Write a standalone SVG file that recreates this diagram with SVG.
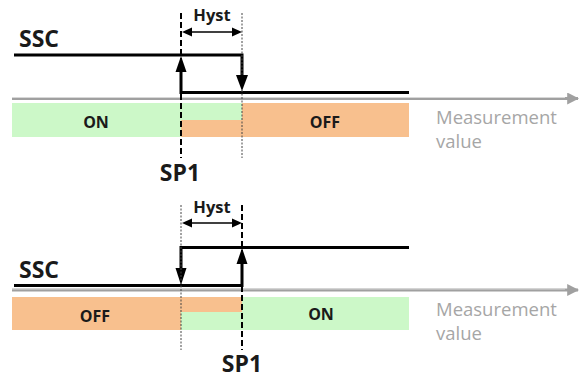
<svg xmlns="http://www.w3.org/2000/svg" width="583" height="379" viewBox="0 0 583 379">
  <style>
    .lbl { font-family: "Open Sans", "Noto Sans", "Liberation Sans", sans-serif; font-weight: bold; fill: #1a1a1a; }
    .big { font-size: 23px; }
    .sp1 { font-size: 23px; }
    .mid { font-size: 16px; }
    .hyst { font-size: 16.5px; }
    .meas { font-family: "Open Sans", "Noto Sans", "Liberation Sans", sans-serif; font-size: 18.5px; fill: #a6a6a6; }
    .axis { stroke: #a0a0a0; stroke-width: 3; fill: none; }
    .axis-hi { stroke: #d8d8d8; stroke-width: 1; fill: none; }
    .sig { stroke: #000; stroke-width: 3; fill: none; }
    .head { fill: #000; }
    .sp { stroke: #000; stroke-width: 2; stroke-dasharray: 6 3; fill: none; }
    .hy { stroke: #444; stroke-width: 1; stroke-dasharray: 2 1.5; fill: none; }
    .on { fill: #ccf8c8; }
    .off { fill: #f8c08e; }
    .dim { stroke: #000; stroke-width: 1.3; fill: none; }
  </style>
  <defs>
    <marker id="axisHead" viewBox="0 0 10 10" refX="9" refY="5" markerWidth="4" markerHeight="4" orient="auto" markerUnits="strokeWidth">
      <path d="M0,0 L10,5 L0,10 z" fill="#a0a0a0"/>
    </marker>
  </defs>

  <!-- upper panel: rising measurement switches SSC off at SP1 + Hyst -->
  <g id="zones-top">
    <rect class="on" x="12" y="103" width="169" height="34"/>
    <rect class="on" x="181" y="103" width="61" height="17"/>
    <rect class="off" x="181" y="120" width="61" height="17"/>
    <rect class="off" x="242" y="103" width="167" height="34"/>
    <text class="lbl mid" x="96" y="128" text-anchor="middle">ON</text>
    <text class="lbl mid" x="325" y="128" text-anchor="middle">OFF</text>
  </g>
  <g id="axis-top">
    <line class="axis" x1="12" y1="98.5" x2="578" y2="98.5" marker-end="url(#axisHead)"/>
    <line class="axis-hi" x1="12" y1="97.5" x2="565" y2="97.5"/>
    <text class="meas" x="436" y="124">Measurement</text>
    <text class="meas" x="436" y="148">value</text>
  </g>
  <g id="ssc-top">
    <text class="lbl big" x="19" y="47">SSC</text>
    <polyline class="sig" points="14,55 242,55 242,76"/>
    <polyline class="sig" points="409,92.5 181,92.5 181,70"/>
  </g>
  <g id="markers-top">
    <line class="sp" x1="181" y1="13" x2="181" y2="158"/>
    <line class="hy" x1="242" y1="13" x2="242" y2="158"/>
    <text class="lbl hyst" x="212" y="21" text-anchor="middle">Hyst</text>
    <line class="dim" x1="190" y1="32" x2="234" y2="32"/>
    <polygon class="head" points="182,32 192,27.5 192,36.5"/>
    <polygon class="head" points="242,32 232,27.5 232,36.5"/>
    <text class="lbl sp1" x="180" y="181" text-anchor="middle">SP1</text>
  </g>

  <!-- lower panel: falling measurement switches SSC on at SP1 - Hyst -->
  <g id="zones-bottom">
    <rect class="off" x="12" y="297" width="169" height="33"/>
    <rect class="off" x="181" y="297" width="61" height="15"/>
    <rect class="on" x="181" y="312" width="61" height="18"/>
    <rect class="on" x="242" y="297" width="167" height="33"/>
    <text class="lbl mid" x="95" y="322" text-anchor="middle">OFF</text>
    <text class="lbl mid" x="321" y="320" text-anchor="middle">ON</text>
  </g>
  <g id="axis-bottom">
    <line class="axis" x1="12" y1="290" x2="578" y2="290" marker-end="url(#axisHead)"/>
    <line class="axis-hi" x1="12" y1="289" x2="565" y2="289"/>
    <text class="meas" x="436" y="315.5">Measurement</text>
    <text class="meas" x="436" y="339.5">value</text>
  </g>
  <g id="ssc-bottom">
    <text class="lbl big" x="19" y="278">SSC</text>
    <polyline class="sig" points="409,247.5 181,247.5 181,268"/>
    <polyline class="sig" points="14,285.5 242,285.5 242,262"/>
  </g>
  <g id="connectors">
    <!-- switching arrows on the SSC edges -->
    <polygon class="head" points="181,56 175.5,72 186.5,72"/>
    <polygon class="head" points="242,91 236,75 248,75"/>
    <polygon class="head" points="181,285 175.5,268 186.5,268"/>
    <polygon class="head" points="242,248 236.5,264 247.5,264"/>
  </g>
  <g id="markers-bottom">
    <line class="hy" x1="181" y1="205" x2="181" y2="350"/>
    <line class="sp" x1="242" y1="205" x2="242" y2="350"/>
    <text class="lbl hyst" x="212" y="213" text-anchor="middle">Hyst</text>
    <line class="dim" x1="190" y1="223" x2="234" y2="223"/>
    <polygon class="head" points="182,223 192,218.5 192,227.5"/>
    <polygon class="head" points="242,223 232,218.5 232,227.5"/>
    <text class="lbl sp1" x="242" y="372" text-anchor="middle">SP1</text>
  </g>
</svg>
